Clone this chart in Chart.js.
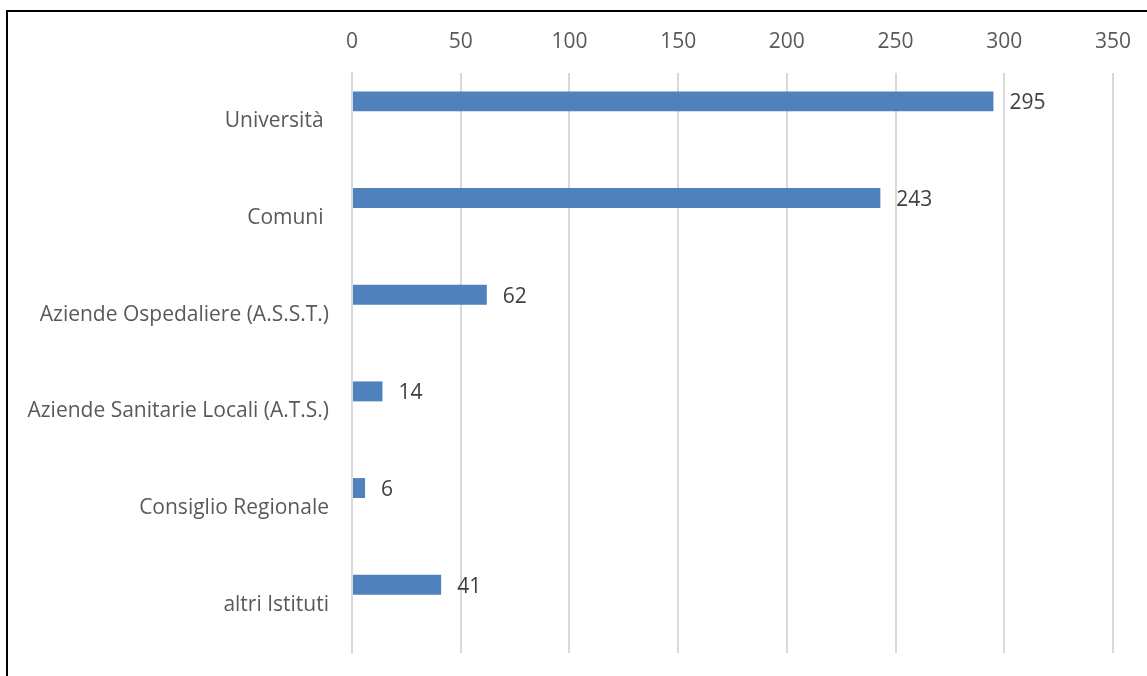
<!DOCTYPE html>
<html>
<head>
<meta charset="utf-8">
<script src="https://cdn.jsdelivr.net/npm/chart.js@4.4.1/dist/chart.umd.min.js"></script>
<style>
  html, body { margin: 0; padding: 0; background: #fff; }
  #wrap { position: relative; width: 1147px; height: 676px; overflow: hidden; }
  #frame { position: absolute; left: 6px; top: 10px; width: 1200px; height: 700px; border-top: 2px solid #000; border-left: 2px solid #000; box-sizing: border-box; }
  canvas { position: absolute; left: 0; top: 0; }
</style>
</head>
<body>
<div id="wrap">
  <div id="frame"></div>
  <canvas id="c" width="1147" height="676"></canvas>
</div>
<script>
const categories = ["Università ", "Comuni ", "Aziende Ospedaliere (A.S.S.T.)", "Aziende Sanitarie Locali (A.T.S.)", "Consiglio Regionale", "altri Istituti"];
const values = [295, 243, 62, 14, 6, 41];
const placeholder = [null, null, null, null, null, null];
const xTicks = [0, 50, 100, 150, 200, 250, 300, 350];

const FONT = "'Open Sans'";
const FSIZE = 21;

const valueLabels = {
  id: 'valueLabels',
  afterDatasetsDraw(chart) {
    const ctx = chart.ctx;
    const meta = chart.getDatasetMeta(0);
    ctx.save();
    ctx.font = FSIZE + "px " + FONT;
    ctx.fillStyle = "#404040";
    ctx.textAlign = "left";
    ctx.textBaseline = "middle";
    meta.data.forEach((bar, i) => {
      ctx.fillText(String(values[i]), bar.x + 16, bar.y + 2);
    });
    ctx.restore();
  }
};

new Chart(document.getElementById('c'), {
  type: 'bar',
  data: {
    labels: categories,
    datasets: [
      { data: values, backgroundColor: '#4F81BD', borderWidth: 0, barPercentage: 0.5, categoryPercentage: 0.825 },
      { data: placeholder, backgroundColor: '#C0504D', borderWidth: 0, barPercentage: 0.5, categoryPercentage: 0.825 }
    ]
  },
  options: {
    indexAxis: 'y',
    responsive: false,
    animation: false,
    layout: { padding: { top: 0, right: 34, bottom: 23, left: 0 } },
    plugins: { legend: { display: false }, tooltip: { enabled: false } },
    scales: {
      x: {
        position: 'top',
        min: 0, max: 350,
        afterBuildTicks(scale) { scale.ticks = xTicks.map(v => ({ value: v })); },
        afterFit(scale) { scale.height = 73; scale.paddingLeft = 0; scale.paddingRight = 0; },
        ticks: { color: '#595959', font: { family: FONT, size: FSIZE }, padding: 18 },
        grid: { color: '#D9D9D9', lineWidth: 2, drawTicks: false },
        border: { display: false }
      },
      y: {
        afterFit(scale) { scale.width = 352; scale.paddingTop = 0; scale.paddingBottom = 0; },
        ticks: { color: '#595959', font: { family: FONT, size: FSIZE }, padding: 23 },
        grid: { display: false, drawTicks: false },
        border: { color: '#D9D9D9', width: 2 }
      }
    }
  },
  plugins: [valueLabels]
});
</script>
</body>
</html>
